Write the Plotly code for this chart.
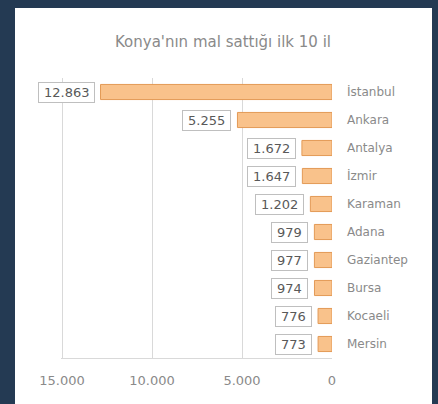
import plotly.graph_objects as go

cities = ["İstanbul", "Ankara", "Antalya", "İzmir", "Karaman", "Adana",
          "Gaziantep", "Bursa", "Kocaeli", "Mersin"]
values = [12863, 5255, 1672, 1647, 1202, 979, 977, 974, 776, 773]
tick_vals = [0, 5000, 10000, 15000]
title_text = "Konya'nın mal sattığı ilk 10 il"

W, H = 438, 404
L, R, T, B = 61, 106, 78, 46
pw, ph = W - L - R, H - T - B
FONT = "DejaVu Sans, Liberation Sans, Arial"

def fmt(v):
    return f"{v:,}".replace(",", ".")

def label_width(s, size=13):
    return sum(0.318 if ch == "." else 0.636 for ch in s) * size + 8

fig = go.Figure(go.Bar(
    x=values, y=cities, orientation="h",
    marker=dict(color="#f9c28b", line=dict(color="#e39a56", width=1)),
    hoverinfo="skip",
))

for c, v in zip(cities, values):
    s = fmt(v)
    fig.add_annotation(
        x=v, y=c, xref="x", yref="y", text=s, showarrow=False,
        xanchor="right", yanchor="middle", xshift=-6,
        width=label_width(s), height=17, align="center",
        font=dict(family=FONT, size=13, color="#595959"),
        bgcolor="white", bordercolor="#bfbfbf", borderwidth=1, borderpad=1,
    )

# white panel
fig.add_shape(type="rect", xref="paper", yref="paper", layer="below",
              x0=(15 - L) / pw, x1=(432 - L) / pw,
              y0=(H - B - 410) / ph, y1=(H - B - 8) / ph,
              fillcolor="white", line=dict(width=0))

fig.update_layout(
    width=W, height=H,
    margin=dict(l=L, r=R, t=T, b=B),
    paper_bgcolor="#243a53",
    plot_bgcolor="rgba(0,0,0,0)",
    separators=",.",
    bargap=0.46,
    showlegend=False,
    title=dict(text=title_text, x=223 / W, y=1 - 42 / H, xanchor="center",
               yanchor="middle",
               font=dict(family=FONT, size=15, color="#8a8a8a")),
    xaxis=dict(range=[15060, 0], tickvals=tick_vals, tickformat=",d",
               showgrid=True, gridcolor="#d9d9d9", gridwidth=1,
               showline=True, linecolor="#d9d9d9", zeroline=False,
               tickfont=dict(family=FONT, size=13, color="#8a8a8a"),
               ticks="", ticklabelstandoff=10),
    yaxis=dict(categoryorder="array", categoryarray=cities, autorange="reversed",
               side="right", showgrid=False, showline=False, zeroline=False,
               ticks="", ticklabelstandoff=14,
               tickfont=dict(family=FONT, size=12, color="#8a8a8a")),
)

fig.write_html("out.html",
               config={"displayModeBar": False},
               post_script="document.body.style.margin='0';"
                           "document.body.style.background='#243a53';")
